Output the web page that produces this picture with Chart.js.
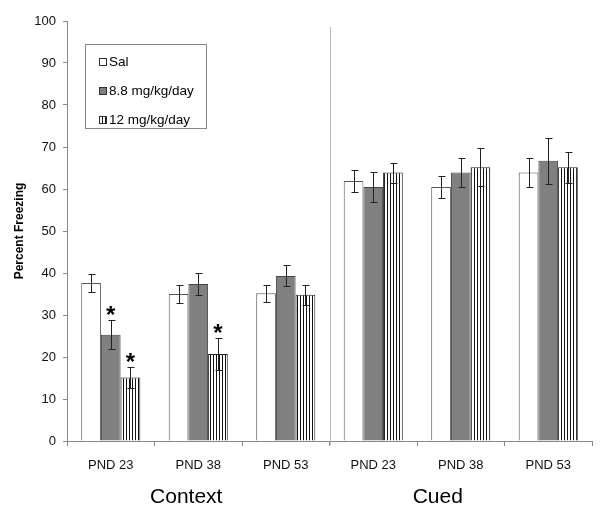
<!DOCTYPE html>
<html>
<head>
<meta charset="utf-8">
<script src="https://cdn.jsdelivr.net/npm/chart.js@4.4.1/dist/chart.umd.min.js"></script>
<style>
  html, body { margin: 0; padding: 0; background: #fff; }
  #wrap { width: 601px; height: 526px; }
</style>
</head>
<body>
<div id="wrap"><canvas id="myChart" width="601" height="526"></canvas></div>
<script>
const categories = ['PND 23', 'PND 38', 'PND 53', 'PND 23', 'PND 38', 'PND 53']
const groups = ['Context', 'Cued']
const seriesNames = ['Sal', '8.8 mg/kg/day', '12 mg/kg/day']

const salMeans = [37.6, 35.0, 35.2, 61.9, 60.5, 63.9]
const midMeans = [25.3, 37.4, 39.3, 60.5, 63.9, 66.7]
const highMeans = [15.1, 20.7, 34.8, 63.9, 65.2, 65.2]

const salErr = [2.2, 2.1, 2.0, 2.7, 2.6, 3.5]
const midErr = [3.4, 2.6, 2.5, 3.6, 3.5, 5.4]
const highErr = [2.5, 3.8, 2.4, 2.4, 4.6, 3.7]

// asterisks: [dataset index, category index]
const significant = [[1, 0], [2, 0], [2, 1]]

const yTicks = [0, 10, 20, 30, 40, 50, 60, 70, 80, 90, 100]

const FONT = "'Liberation Sans', Arial, sans-serif"

function stripePattern() {
  const c = document.createElement('canvas')
  c.width = 3
  c.height = 4
  const g = c.getContext('2d')
  g.fillStyle = '#fff'
  g.fillRect(0, 0, 3, 4)
  g.fillStyle = '#111'
  g.fillRect(0, 0, 1, 4)
  return g.createPattern(c, 'repeat')
}
const stripes = stripePattern()

const errors = [salErr, midErr, highErr]

const errorBars = {
  id: 'errorBars',
  afterDatasetsDraw(chart) {
    const ctx = chart.ctx
    const y = chart.scales.y
    ctx.save()
    ctx.strokeStyle = '#222'
    ctx.lineWidth = 1
    chart.data.datasets.forEach((ds, di) => {
      const meta = chart.getDatasetMeta(di)
      meta.data.forEach((bar, i) => {
        const v = ds.data[i]
        const e = errors[di][i]
        const x = Math.round(bar.x) + 0.5
        const top = Math.round(y.getPixelForValue(v + e)) + 0.5
        const bot = Math.round(y.getPixelForValue(v - e)) + 0.5
        ctx.beginPath()
        ctx.moveTo(x, top); ctx.lineTo(x, bot)
        ctx.moveTo(x - 3, top); ctx.lineTo(x + 4, top)
        ctx.moveTo(x - 3, bot); ctx.lineTo(x + 4, bot)
        ctx.stroke()
      })
    })
    ctx.fillStyle = '#000'
    ctx.font = 'bold 24px ' + FONT
    ctx.textAlign = 'center'
    ctx.textBaseline = 'alphabetic'
    significant.forEach(([di, i]) => {
      const bar = chart.getDatasetMeta(di).data[i]
      const v = chart.data.datasets[di].data[i] + errors[di][i]
      ctx.fillText('*', bar.x, y.getPixelForValue(v) + 3)
    })
    ctx.restore()
  }
}

const decorations = {
  id: 'decorations',
  afterDraw(chart) {
    const ctx = chart.ctx
    const x = chart.scales.x
    const area = chart.chartArea
    ctx.save()
    // separator between Context and Cued
    const sep = Math.round((x.getPixelForValue(2) + x.getPixelForValue(3)) / 2) + 0.5
    ctx.strokeStyle = '#bbb'
    ctx.lineWidth = 1
    ctx.beginPath()
    ctx.moveTo(sep, area.top + 6)
    ctx.lineTo(sep, area.bottom + 4)
    ctx.stroke()

    // group labels
    ctx.fillStyle = '#000'
    ctx.font = '21px ' + FONT
    ctx.textAlign = 'center'
    ctx.textBaseline = 'middle'
    ctx.fillText(groups[0], x.getPixelForValue(1) - 12, 497)
    ctx.fillText(groups[1], x.getPixelForValue(4) - 23, 497)

    // legend box
    ctx.strokeStyle = '#888'
    ctx.strokeRect(85.5, 44.5, 121, 84)
    ctx.font = '13.5px ' + FONT
    ctx.textAlign = 'left'
    const rows = [62, 91, 120]
    chart.data.datasets.forEach((ds, i) => {
      const yy = rows[i]
      ctx.fillStyle = ds.backgroundColor
      ctx.fillRect(99, yy - 4, 8, 8)
      ctx.strokeStyle = '#333'
      ctx.strokeRect(99.5, yy - 3.5, 7, 7)
      ctx.fillStyle = '#000'
      ctx.fillText(ds.label, 109, yy)
    })
    ctx.restore()
  }
}

const data = {
  labels: categories,
  datasets: [
    { label: seriesNames[0], data: salMeans, backgroundColor: '#ffffff', borderColor: '#555', borderWidth: 1 },
    { label: seriesNames[1], data: midMeans, backgroundColor: '#808080', borderColor: '#444', borderWidth: 1 },
    { label: seriesNames[2], data: highMeans, backgroundColor: stripes, borderColor: '#222', borderWidth: 1 }
  ]
}

const config = {
  type: 'bar',
  data: data,
  options: {
    responsive: false,
    animation: false,
    devicePixelRatio: 1,
    layout: { padding: { top: 21, right: 9, left: 0, bottom: 0 } },
    datasets: { bar: { barPercentage: 1, categoryPercentage: 0.675 } },
    plugins: { legend: { display: false }, tooltip: { enabled: false } },
    scales: {
      x: {
        afterFit(s) { s.height = 85 },
        grid: { drawOnChartArea: false, offset: true, tickLength: 5, color: '#888' },
        border: { color: '#888' },
        ticks: { color: '#111', padding: 12, font: { family: FONT, size: 13 }, maxRotation: 0, autoSkip: false }
      },
      y: {
        min: 0,
        max: 100,
        afterFit(s) { s.width = 67 },
        afterBuildTicks(s) { s.ticks = yTicks.map(v => ({ value: v })) },
        grid: { drawOnChartArea: false, tickLength: 4, color: '#888' },
        border: { color: '#888' },
        title: { display: true, text: 'Percent Freezing', color: '#000', font: { family: FONT, size: 12, weight: 'bold' }, padding: { top: 12, bottom: 0 } },
        ticks: { color: '#111', padding: 7, font: { family: FONT, size: 13 } }
      }
    }
  },
  plugins: [errorBars, decorations]
}

const myChart = new Chart(document.querySelector('#myChart'), config)
</script>
</body>
</html>
